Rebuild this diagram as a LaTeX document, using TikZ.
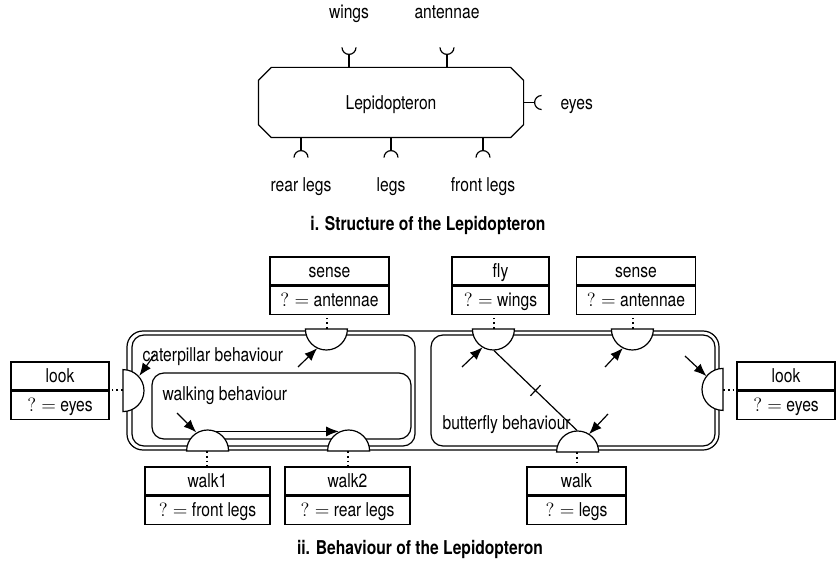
\documentclass[tikz,border=0pt]{standalone}
\usepackage{amssymb,amsmath}
\usepackage[no-math]{fontspec}
\setmainfont{TeX Gyre Heros}[FakeStretch=0.82]
\usetikzlibrary{positioning,arrows.meta}

\begin{document}
\begin{tikzpicture}[
            x=0.75pt, y=-0.75pt,
            line width=0.9pt,
            every node/.style={font=\fontsize{14.3}{17}\selectfont},
            lbl/.style={inner sep=0pt,anchor=base},
            caption/.style={lbl,font=\fontsize{14.3}{17}\selectfont\bfseries},
            ifbox/.style={draw,fill=white,minimum width=#1,minimum height=21pt,inner xsep=5.5pt,inner ysep=0pt,text height=12pt,text depth=3pt},
            region/.style={draw,rounded corners=9pt,inner sep=0pt},
            port/.style={circle,minimum size=31.5pt,inner sep=0pt},
            link/.style={line width=1.4pt,dash pattern=on 1.4pt off 2.2pt},
            arr/.style={-{Latex[length=9.5pt,width=7.5pt]}}
        ]
        \useasboundingbox (0,0) rectangle (838,570);
        \node[minimum width=198pt,minimum height=51.75pt,text depth=0pt] (lepi) at (391,102.5) {Lepidopteron};
        \draw ([xshift=9.75pt]lepi.north west) -- ([xshift=-9.75pt]lepi.north east)
        -- ([yshift=-9.75pt]lepi.north east) -- ([yshift=9.75pt]lepi.south east)
        -- ([xshift=-9.75pt]lepi.south east) -- ([xshift=9.75pt]lepi.south west)
        -- ([yshift=9.75pt]lepi.south west) -- ([yshift=-9.75pt]lepi.north west) -- cycle;
        \node[lbl] (wingsL) at (349,19) {wings};
        \node[lbl] (antennaeL) at (447,19) {antennae};
        \node[lbl,anchor=base west] (eyesL) at (560,110) {eyes};
        \node[lbl] (rearL) at (301,192) {rear legs};
        \node[lbl] (legsL) at (391,192) {legs};
        \node[lbl] (frontL) at (483,192) {front legs};
        \foreach \t in {wingsL,antennaeL}{
            \draw (lepi.north -| \t) -- ++(0,-13) coordinate (tip);
            \draw ([xshift=-5.25pt,yshift=5.25pt]tip) arc[start angle=180,end angle=360,radius=5.25pt];
        }
        \foreach \t in {rearL,legsL,frontL}{
            \draw (lepi.south -| \t) -- ++(0,13) coordinate (tip);
            \draw ([xshift=-5.25pt,yshift=-5.25pt]tip) arc[start angle=180,end angle=0,radius=5.25pt];
        }
        \draw (lepi.east) -- ++(11,0) coordinate (eyesT);
        \draw ([xshift=5.25pt,yshift=5.25pt]eyesT) arc[start angle=90,end angle=270,radius=5.25pt];
        \node[caption] (capi) at (428,231) {i. Structure of the Lepidopteron};

        \node[region,rounded corners=12pt,minimum width=444pt,minimum height=89.25pt] (frame) at (423,390.5) {};
        \node[region,minimum width=212.25pt,minimum height=83.25pt] (caterpillar) at (273.5,390.5) {};
        \node[region,minimum width=213pt,minimum height=83.25pt] (butterfly) at (573,390.5) {};
        \node[region,minimum width=194.25pt,minimum height=49.5pt] (walking) at (281.5,406) {};
        \node[lbl,anchor=base west] (caterpillarL) at (142,361) {caterpillar behaviour};
        \node[lbl,anchor=base west] (walkingL) at (162,400) {walking behaviour};
        \node[lbl,anchor=base west] (butterflyL) at (442,429) {butterfly behaviour};

        \node[port] (lookLp) at (123,390) {};
        \node[port] (senseLp) at (327,329) {};
        \node[port] (flyp) at (494,329) {};
        \node[port] (senseRp) at (633,329) {};
        \node[port] (lookRp) at (723,390) {};
        \node[port] (walk1p) at (207,451) {};
        \node[port] (walk2p) at (348,451) {};
        \node[port] (walkp) at (577,452) {};
        \foreach \p/\a in {lookLp/270,senseLp/180,flyp/180,senseRp/180,lookRp/90,walk1p/0,walk2p/0,walkp/0}
            \draw[fill=white] (\p.\a) arc[start angle=\a,delta angle=180,radius=15.75pt] -- cycle;

        \node[ifbox=73.5pt] (lookL) at (60,376) {look};
        \node[ifbox=73.5pt,below=0pt of lookL] (lookLv) {$?=$ eyes};
        \node[ifbox=89.25pt] (senseL) at (329.5,271) {sense};
        \node[ifbox=89.25pt,below=0pt of senseL] (senseLv) {$?=$ antennae};
        \node[ifbox=72.75pt] (fly) at (500.5,271) {fly};
        \node[ifbox=72.75pt,below=0pt of fly] (flyv) {$?=$ wings};
        \node[ifbox=89.25pt] (senseR) at (636,271) {sense};
        \node[ifbox=89.25pt,below=0pt of senseR] (senseRv) {$?=$ antennae};
        \node[ifbox=73.5pt] (lookR) at (786,376) {look};
        \node[ifbox=73.5pt,below=0pt of lookR] (lookRv) {$?=$ eyes};
        \node[ifbox=93.75pt] (walk1) at (207.5,481) {walk1};
        \node[ifbox=93.75pt,below=0pt of walk1] (walk1v) {$?=$ front legs};
        \node[ifbox=93.75pt] (walk2) at (347.5,481) {walk2};
        \node[ifbox=93.75pt,below=0pt of walk2] (walk2v) {$?=$ rear legs};
        \node[ifbox=74.25pt] (walk) at (576.5,481) {walk};
        \node[ifbox=74.25pt,below=0pt of walk] (walkv) {$?=$ legs};
        \draw[link] (lookLp.center) -- (lookLp -| lookL.east);
        \draw[link] (lookRp.center) -- (lookRp -| lookR.west);
        \foreach \p/\b in {senseLp/senseLv,flyp/flyv,senseRp/senseRv}
            \draw[link] (\p.center) -- (\p |- \b.south);
        \foreach \p/\b in {walk1p/walk1,walk2p/walk2,walkp/walk}
            \draw[link] (\p.center) -- (\p |- \b.north);

        \coordinate (a1) at (155,354);
        \coordinate (a2) at (298,367);
        \coordinate (a3) at (177,413);
        \coordinate (a5) at (462,367);
        \coordinate (a6) at (605,367);
        \coordinate (a7) at (685,356);
        \coordinate (a8) at (608,414);
        \draw[arr] (a1) -- (lookLp.41);
        \draw[arr] (a2) -- (senseLp.243);
        \draw[arr] (a3) -- (walk1p.120);
        \draw[arr] (walk1p.65) -- (walk2p.115);
        \draw[arr] (a5) -- (flyp.238);
        \draw[arr] (a6) -- (senseRp.242);
        \draw[arr] (a7) -- (lookRp.140);
        \draw[arr] (a8) -- (walkp.56);
        \draw (flyp.south) -- node[sloped,draw,inner sep=0pt,minimum width=0pt,minimum height=11pt] (tick) {} (walkp.north);
        \node[caption] (capii) at (420,554) {ii. Behaviour of the Lepidopteron};
    \end{tikzpicture}
\end{document}
